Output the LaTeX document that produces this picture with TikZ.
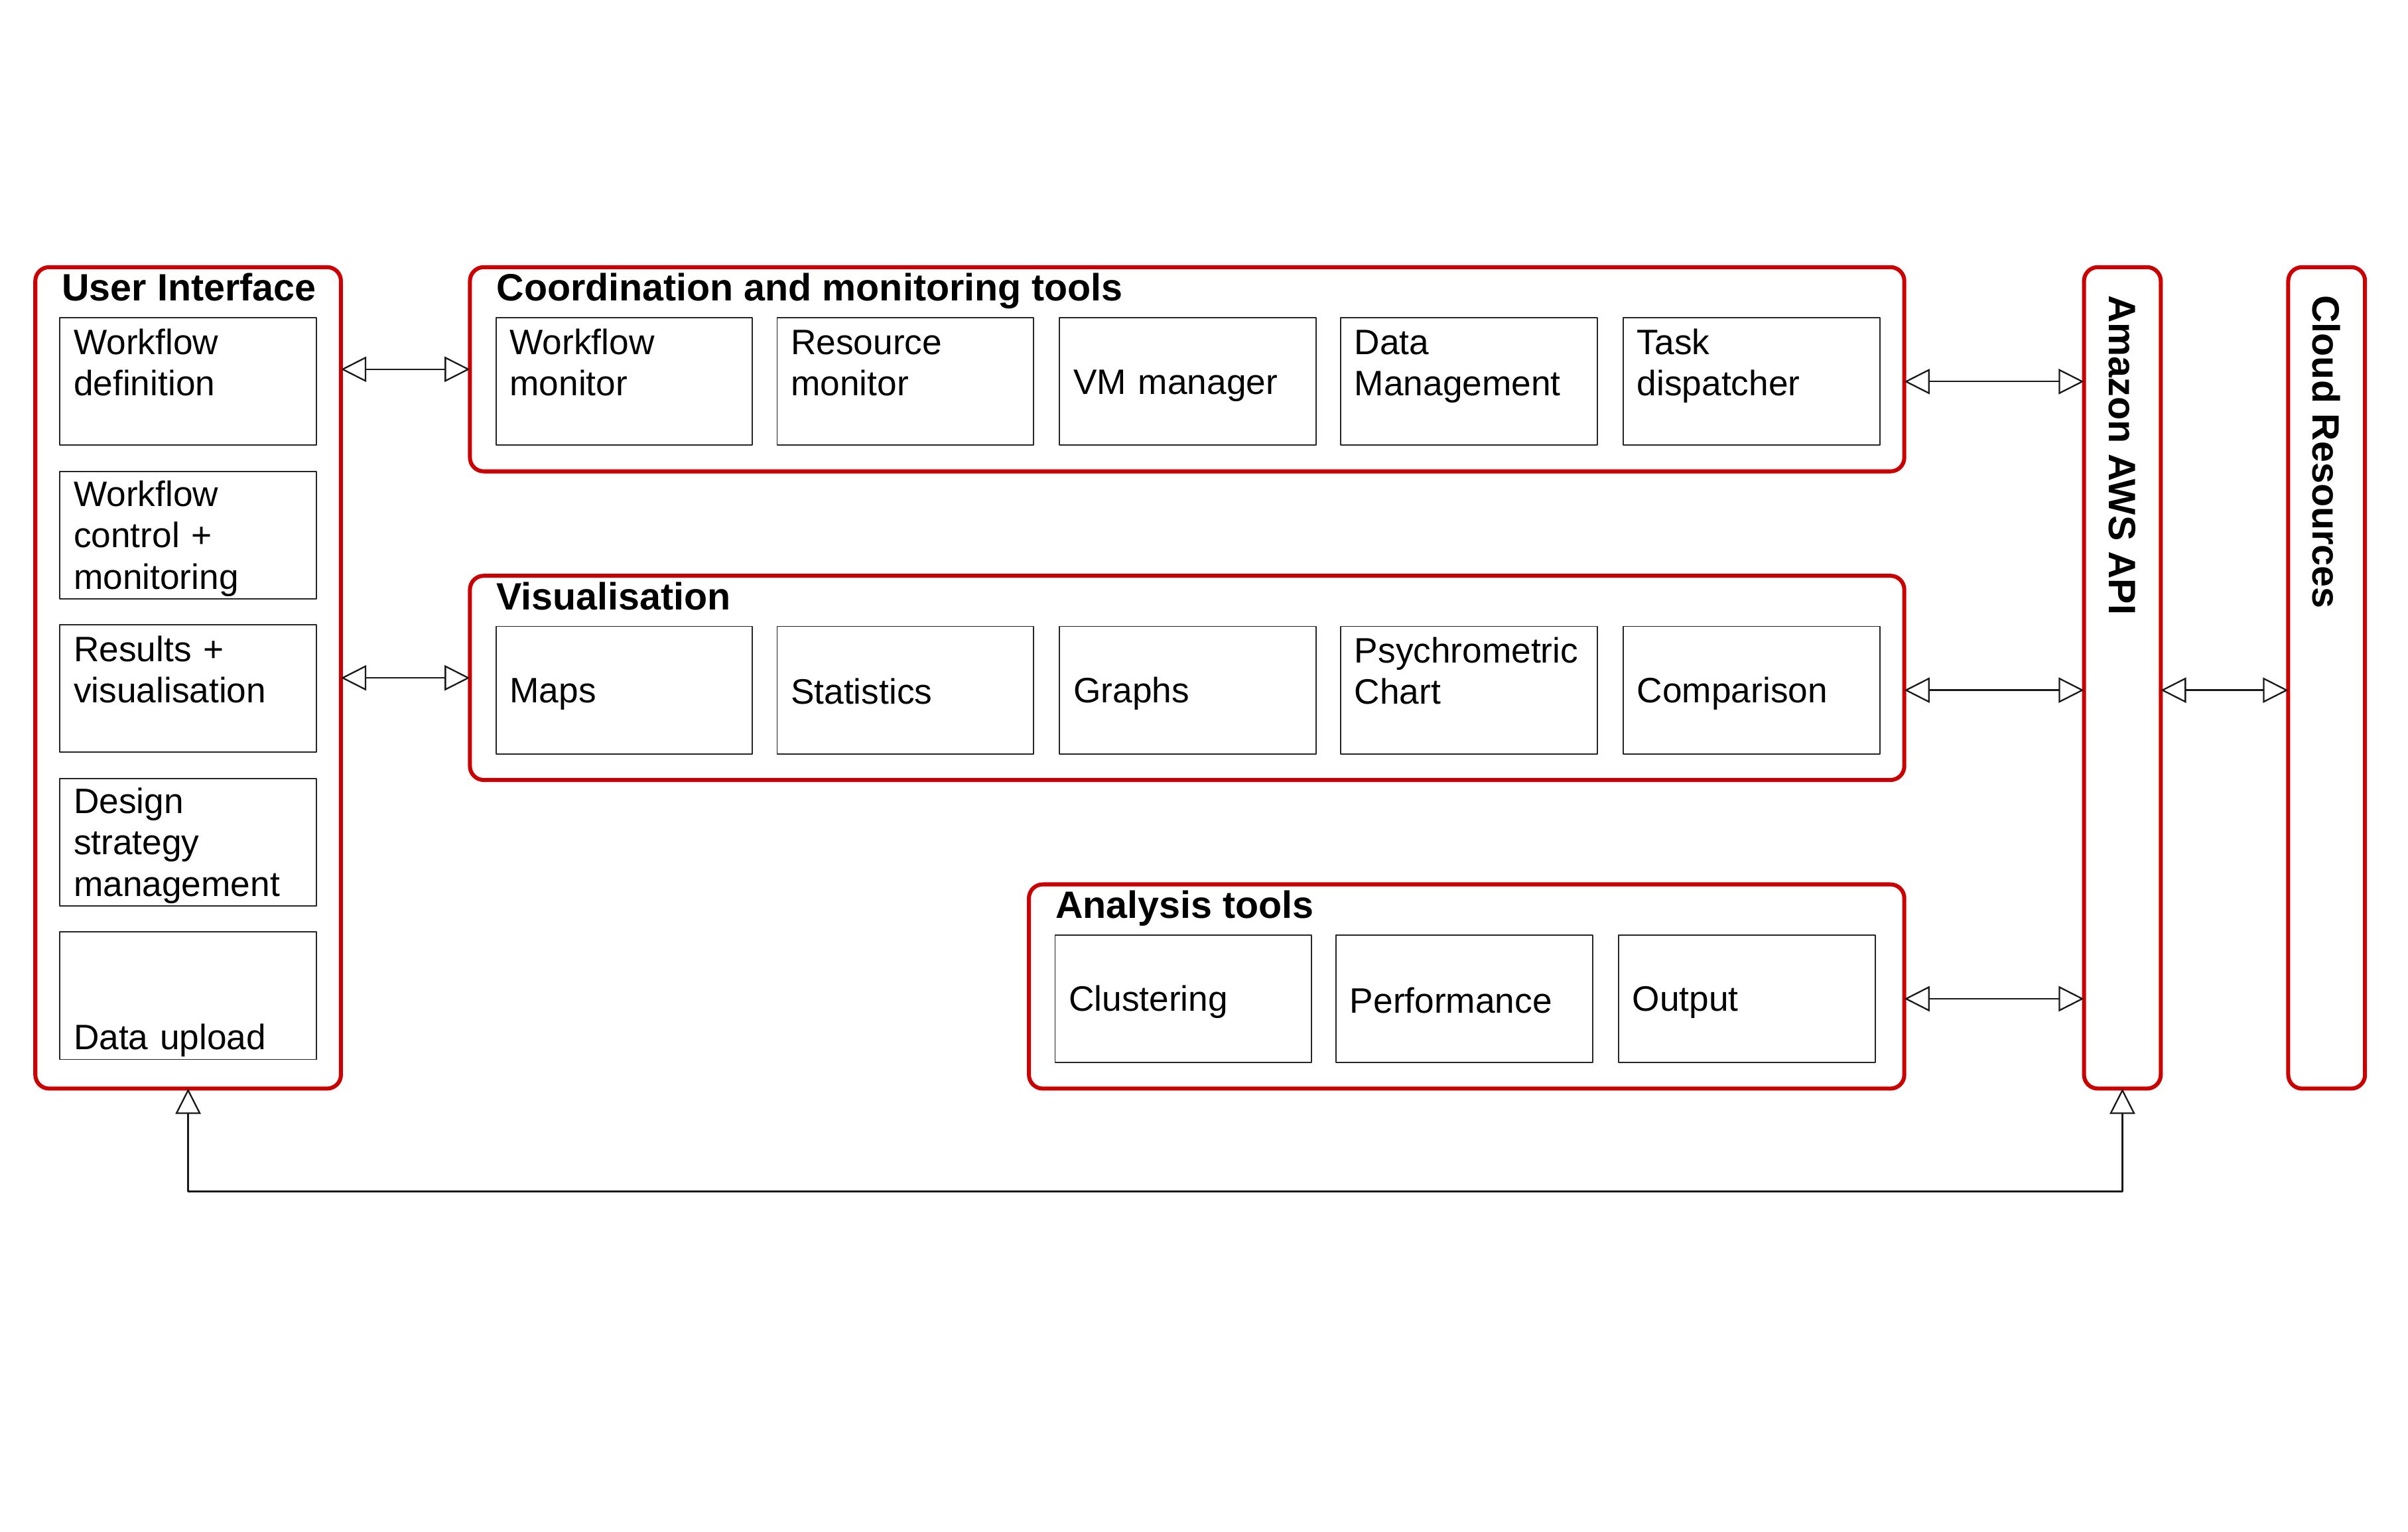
\documentclass[tikz,border=0pt]{standalone}
\usepackage{fontspec}
\setmainfont{Liberation Sans}
\usepackage{tikz}
\usetikzlibrary{arrows.meta}
\definecolor{framered}{HTML}{CC0000}
\newcommand{\FrameColor}{framered}
\newcommand{\LineStrut}{\rule[-1.3pt]{0pt}{11.8pt}}

\begin{document}
\begin{tikzpicture}[line cap=round,line join=round,x=0.5pt,y=-0.5pt,
  frame/.style={draw=\FrameColor,line width=1.3pt,rounded corners=4.5pt,inner sep=0pt,outer sep=0pt},
  title/.style={anchor=base west,inner sep=0pt,font=\fontsize{12.4}{14}\selectfont\bfseries},
  tool/.style={draw=black!85,line width=0.4pt,minimum width=83.5pt,minimum height=41.5pt,inner sep=0pt,outer sep=0pt,
    text width=74.5pt,align=left,font=\fontsize{11.5}{13.5}\selectfont,
    execute at begin node=\LineStrut,execute at end node=\LineStrut},
  link/.style={draw=black!90,line width=0.5pt,{Triangle[open,length=8.25pt,width=8.25pt]}-{Triangle[open,length=8.25pt,width=8.25pt]}}]
  \useasboundingbox (0,0) rectangle (1568,997.8);
  % frames
  \node[frame,minimum width=99.5pt,minimum height=267.5pt] (ui) at (122.5,441.5) {};
  \node[frame,minimum width=467pt,minimum height=66.5pt] (coord) at (773,240.5) {};
  \node[frame,minimum width=467pt,minimum height=66.5pt] (vis) at (773,441.5) {};
  \node[frame,minimum width=285pt,minimum height=66.5pt] (ana) at (955,642.5) {};
  \node[frame,minimum width=25pt,minimum height=267.5pt] (aws) at (1382,441.5) {};
  \node[frame,minimum width=25pt,minimum height=267.5pt] (cloud) at (1515,441.5) {};
  \node[title] (uititle) at ([shift={(8.5pt,-11pt)}]ui.north west) {User Interface};
  \node[title] (coordtitle) at ([shift={(8.5pt,-11pt)}]coord.north west) {Coordination and monitoring tools};
  \node[title] (vistitle) at ([shift={(8.5pt,-11pt)}]vis.north west) {Visualisation};
  \node[title] (anatitle) at ([shift={(8.5pt,-11pt)}]ana.north west) {Analysis tools};
  \node[title,rotate=-90,anchor=west] (awstitle) at ([yshift=-9pt]aws.north) {Amazon AWS API};
  \node[title,rotate=-90,anchor=west] (cloudtitle) at ([yshift=-9pt]cloud.north) {Cloud Resources};
  % tools
  \foreach \name/\y/\txt in {u1/248.5/{Workflow\\definition\\\mbox{}},u2/348.5/{Workflow\\control +\\monitoring},
    u3/448.5/{Results +\\visualisation\\\mbox{}},u4/548.5/{Design\\strategy\\management},u5/648.5/{\mbox{}\\\mbox{}\\Data upload}}
  \node[tool] (\name) at (122.5,\y) {\txt};
  \foreach \name/\x/\txt in {c1/406.5/{Workflow\\monitor\\\mbox{}},c2/589.5/{Resource\\monitor\\\mbox{}},
    c3/773.5/{VM manager},c4/956.5/{Data\\Management\\\mbox{}},c5/1140.5/{Task\\dispatcher\\\mbox{}}}
  \node[tool] (\name) at (\x,248.5) {\txt};
  \foreach \name/\x/\txt in {v1/406.5/{Maps},v2/589.5/{Statistics},v3/773.5/{Graphs},
    v4/956.5/{Psychrometric\\Chart\\\mbox{}},v5/1140.5/{Comparison}}
  \node[tool] (\name) at (\x,449.5) {\txt};
  \foreach \name/\x/\txt in {a1/770.5/{Clustering},a2/953.5/{Performance},a3/1137.5/{Output}}
  \node[tool] (\name) at (\x,650.5) {\txt};
  % links
  \draw[link] (ui.east |- coord.west) -- (coord.west);
  \draw[link] (ui.east |- vis.west) -- (vis.west);
  \draw[link] (coord.east |- c5.east) -- (aws.west |- c5.east);
  \draw[link] (vis.east |- v5.east) -- (aws.west |- v5.east);
  \draw[link] (ana.east |- a3.east) -- (aws.west |- a3.east);
  \draw[link] (aws.east |- v5.east) -- (cloud.west |- v5.east);
  \coordinate (bus) at (0,776);
  \draw[link] (ui.south) -- (ui.south |- bus) -- (aws.south |- bus) -- (aws.south);
\end{tikzpicture}
\end{document}
